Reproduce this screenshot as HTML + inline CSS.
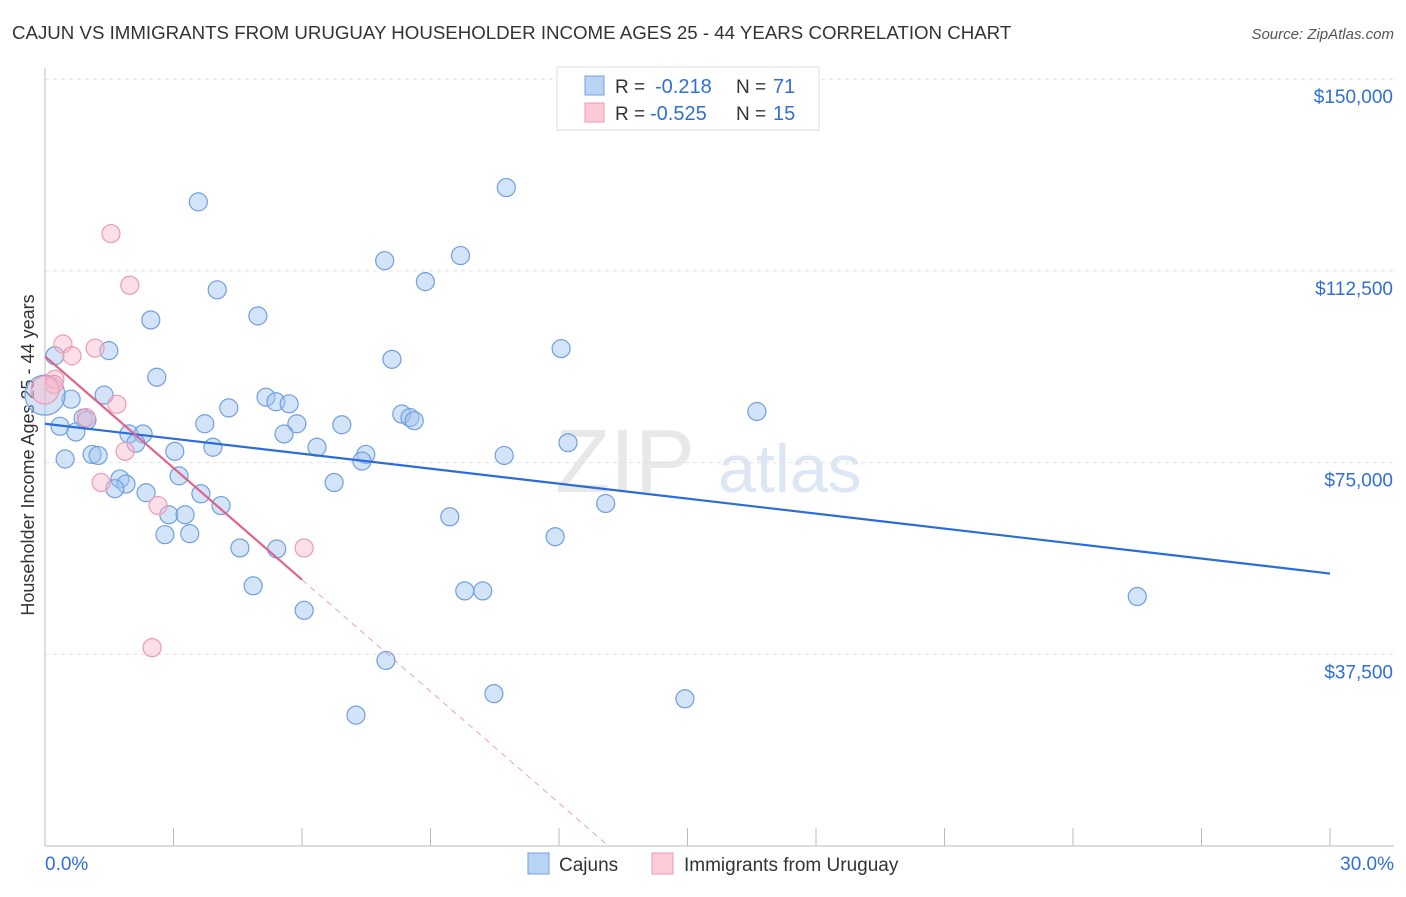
<!DOCTYPE html>
<html><head><meta charset="utf-8"><style>
body{margin:0;background:#fff;font-family:"Liberation Sans",sans-serif}
svg text{font-family:"Liberation Sans",sans-serif}
</style></head><body>
<svg id="c" width="1406" height="892" xmlns="http://www.w3.org/2000/svg">
<text x="12" y="39" font-size="18.7" fill="#333">CAJUN VS IMMIGRANTS FROM URUGUAY HOUSEHOLDER INCOME AGES 25 - 44 YEARS CORRELATION CHART</text>
<text x="1394" y="39" font-size="15" fill="#555" text-anchor="end" font-style="italic">Source: ZipAtlas.com</text>
<text x="555" y="492" font-size="90" fill="#e8e8e8" font-family="Liberation Serif">ZIP</text>
<text x="718" y="492" font-size="68" fill="#dce6f4">atlas</text>
<text transform="translate(34,455) rotate(-90)" font-size="18" fill="#333" text-anchor="middle">Householder Income Ages 25 - 44 years</text>
<g id="grid"></g><g id="pts"></g><g id="lines"></g>
<g>
<rect x="557" y="67" width="262" height="63" fill="#fff" stroke="#ddd"/>
<rect x="585" y="76" width="19" height="19" fill="#b9d3f5" stroke="#6f9fe0"/>
<rect x="585" y="103" width="19" height="19" fill="#fbcbd8" stroke="#ee9ab2"/>
<text x="615" y="93" font-size="19" fill="#333">R =</text>
<text x="655" y="93" font-size="20" fill="#2f6fd6">-0.218</text>
<text x="736" y="93" font-size="19" fill="#333">N =</text>
<text x="773" y="93" font-size="20" fill="#2f6fd6">71</text>
<text x="615" y="120" font-size="19" fill="#333">R =</text>
<text x="650" y="120" font-size="20" fill="#2f6fd6">-0.525</text>
<text x="736" y="120" font-size="19" fill="#333">N =</text>
<text x="773" y="120" font-size="20" fill="#2f6fd6">15</text>
</g>
<g>
<rect x="528" y="853" width="21" height="21" fill="#b9d3f5" stroke="#6f9fe0"/>
<text x="559" y="871" font-size="19" fill="#333">Cajuns</text>
<rect x="652" y="853" width="21" height="21" fill="#fbcbd8" stroke="#ee9ab2"/>
<text x="684" y="871" font-size="19" fill="#333">Immigrants from Uruguay</text>
</g>
</svg>
<script>
const yTicks=[37500,75000,112500,150000];
const yTickLabels=["$37,500","$75,000","$112,500","$150,000"];
const xTickLabels=["0.0%","30.0%"];
const cajunX=[3.58,10.77,9.7,7.93,8.88,4.02,2.47,4.97,1.49,12.05,8.1,0.23,2.61,1.38,0.61,5.16,5.39,5.7,4.29,8.33,8.52,8.62,16.62,3.73,5.88,6.93,0.35,0.89,0.98,0.72,1.96,2.29,5.58,12.21,2.12,3.92,3.03,6.35,1.1,1.24,7.49,7.4,10.72,0.47,1.75,1.89,3.13,6.75,1.63,2.36,3.64,13.09,4.11,2.89,3.27,9.45,2.8,3.38,11.91,4.55,5.41,4.86,9.8,10.22,25.5,6.05,7.96,10.48,14.94,7.26,0];
const cajunY=[126000,128800,115500,114500,110400,108800,102900,103700,96900,97300,95200,95900,91700,88200,87400,87800,86900,86500,85700,84500,83800,83200,85000,82600,82600,82400,82100,83700,83300,81000,80600,80600,80600,78900,78800,78000,77200,78000,76600,76400,76600,75300,76400,75700,71800,70800,72400,71100,69900,69100,68900,67000,66600,64800,64800,64400,60900,61100,60500,58300,58100,50900,49900,49900,48800,46100,36300,29800,28800,25600,88200];
const urugX=[1.54,1.98,0.42,0.63,1.17,0.23,0.21,1.68,0.96,1.87,1.31,2.64,6.05,2.5,0];
const urugY=[119800,109700,98200,95900,97400,91300,90300,86400,83800,77200,71100,66600,58300,38800,89200];
const trends=[{a:0,va:82600,b:30,vb:53300,c:"#2a6dd9",d:30},{a:0,va:95800,b:6,vb:52100,c:"#e0628c",d:6,dash:14}];
const X=v=>45+v/30*1285, Y=v=>846-v/37500*191.7;
const ns="http://www.w3.org/2000/svg";
function mk(p,t,at){const e=document.createElementNS(ns,t);for(const k in at)e.setAttribute(k,at[k]);p.appendChild(e);return e;}
const g=document.getElementById('grid');
yTicks.forEach((v,i)=>{const l=mk(g,'line',{x1:45,x2:1394,y1:Y(v),y2:Y(v),stroke:"#e2e2e2","stroke-dasharray":"4 4"});


const t=mk(g,'text',{x:1393,y:Y(v)+24,"font-size":19,fill:"#2f6fd6","text-anchor":"end"});t.textContent=yTickLabels[i];

});
mk(g,'line',{x1:45,x2:45,y1:68,y2:846,stroke:"#bbb"});
mk(g,'line',{x1:45,x2:1394,y1:846,y2:846,stroke:"#bbb"});
for(let i=0;i<=10;i++){const x=X(i*3);const l=mk(g,'line',{x1:x,x2:x,y1:828,y2:846,stroke:"#bbb"});

}
[[0,"start",45],[30,"end",1394]].forEach((a,i)=>{const t=mk(g,'text',{x:a[2],y:870,"font-size":19,fill:"#2f6fd6","text-anchor":a[1]});t.textContent=xTickLabels[i];

});
const P=document.getElementById('pts');
cajunX.forEach((x,i)=>{const c=mk(P,'circle',{cx:X(x),cy:Y(cajunY[i]),r:i==cajunX.length-1?20:9,fill:"rgba(160,195,240,0.45)",stroke:"#6f9fe0","stroke-width":1.2});

});
urugX.forEach((x,i)=>{const c=mk(P,'circle',{cx:X(x),cy:Y(urugY[i]),r:i==urugX.length-1?14:9,fill:"rgba(250,185,205,0.45)",stroke:"#ee9ab2","stroke-width":1.2});

});
const L=document.getElementById('lines');
trends.forEach(t=>{const sl=(t.vb-t.va)/(t.b-t.a);
const l=mk(L,'line',{x1:X(t.a),y1:Y(t.va),x2:X(t.b),y2:Y(t.vb),stroke:t.c,"stroke-width":2.2});


if(t.dash){const xe=t.a-t.va/sl;const d=mk(L,'line',{x1:X(t.b),y1:Y(t.vb),x2:X(xe),y2:Y(0),stroke:t.c,"stroke-width":1,"stroke-dasharray":"6 5",opacity:0.6});

}});
</script>
</body></html>
